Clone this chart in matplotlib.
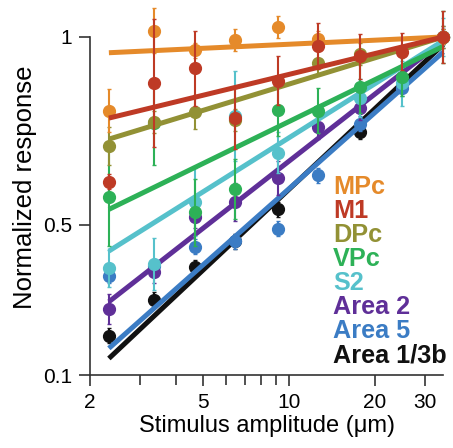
import numpy as np
import matplotlib.pyplot as plt
from matplotlib.ticker import FixedLocator, NullFormatter

plt.rcParams['font.family'] = ['Liberation Sans', 'DejaVu Sans']

nan = np.nan

# stimulus amplitudes (um)
amp = [2.33, 3.36, 4.68, 6.46, 9.14, 12.6, 17.8, 24.9, 34.8]

areas = ['MPc', 'M1', 'DPc', 'VPc', 'S2', 'Area 2', 'Area 5', 'Area 1/3b']
colors = ['#E58A2A', '#BE3A25', '#929135', '#2DB157',
          '#56C1CB', '#5F2F98', '#3B7CC4', '#111111']

# mean normalized response per area, nan = no point shown
resp_mpc = [0.804, 1.016, 0.965, 0.992, 1.027, 0.995, nan, nan, 1.0]
resp_m1 = [0.614, 0.878, 0.917, 0.783, 0.883, 0.976, 0.949, 0.961, 1.0]
resp_dpc = [0.710, 0.774, 0.801, 0.779, nan, 0.932, 0.955, nan, 1.0]
resp_vpc = [0.573, 0.770, 0.533, 0.595, 0.806, 0.803, 0.868, 0.894, 1.0]
resp_s2 = [0.384, 0.396, 0.561, 0.790, 0.692, nan, 0.837, 0.877, 1.0]
resp_a2 = [0.275, 0.375, 0.521, 0.561, 0.624, 0.759, 0.810, nan, 1.0]
resp_a5 = [0.364, 0.390, 0.442, 0.456, 0.489, 0.632, 0.769, 0.863, 1.0]
resp_a13b = [0.204, 0.300, 0.387, 0.456, 0.541, nan, 0.748, nan, 1.0]

# standard errors
err_mpc = [0.057, 0.06, 0.02, 0.03, 0.03, 0.02, nan, nan, 0.02]
err_m1 = [0.02, 0.17, 0.10, 0.08, 0.065, 0.06, 0.06, 0.05, 0.07]
err_dpc = [0.05, 0.03, 0.045, 0.03, nan, 0.03, 0.03, nan, 0.03]
err_vpc = [0.13, 0.11, 0.09, 0.08, 0.07, 0.06, 0.07, 0.05, 0.07]
err_s2 = [0.05, 0.07, 0.09, 0.12, 0.055, nan, 0.05, 0.06, 0.05]
err_a2 = [0.04, 0.03, 0.03, 0.05, 0.045, 0.03, 0.03, nan, 0.03]
err_a5 = [0.02, 0.02, 0.02, 0.02, 0.02, 0.02, 0.02, 0.02, 0.02]
err_a13b = [0.02, 0.02, 0.02, 0.02, 0.02, nan, 0.02, nan, 0.02]

# fitted line values at the smallest and largest amplitude
fit_start = [0.958, 0.784, 0.728, 0.541, 0.430, 0.295, 0.171, 0.144]
fit_end = [1.0, 1.0, 1.0, 0.975, 0.99, 0.99, 0.96, 0.98]

resp = [resp_mpc, resp_m1, resp_dpc, resp_vpc, resp_s2, resp_a2, resp_a5, resp_a13b]
errs = [err_mpc, err_m1, err_dpc, err_vpc, err_s2, err_a2, err_a5, err_a13b]

# draw order (later = on top)
draw_order = [7, 6, 5, 4, 3, 2, 0, 1]

fig = plt.figure(figsize=(4.53, 4.48), dpi=100)
ax = fig.add_axes([90 / 453, 73 / 448, 354 / 453, 375.6 / 448])

for z, i in enumerate(draw_order):
    c = colors[i]
    ax.errorbar(amp, resp[i], yerr=errs[i], fmt='o', color=c, ms=8.5,
                elinewidth=1.5, capsize=1.5, capthick=1.0, zorder=3 + z)
    ax.plot([amp[0], amp[-1]], [fit_start[i], fit_end[i]], color=c, lw=3.6,
            solid_capstyle='butt', zorder=3 + z)

for art in ax.lines + ax.collections:
    art.set_clip_on(False)

ax.set_xscale('log')
ax.set_xlim(2, 35)
ax.set_ylim(0.1, 1.1)
ax.set_xticks([2, 5, 10, 20, 30])
ax.set_xticklabels(['2', '5', '10', '20', '30'])
ax.xaxis.set_minor_locator(FixedLocator([3, 4, 6, 7, 8, 9]))
ax.xaxis.set_minor_formatter(NullFormatter())
ax.set_yticks([0.1, 0.5, 1])
ax.set_yticklabels(['0.1', '0.5', '1'])

for s in ['top', 'right']:
    ax.spines[s].set_visible(False)
ax.spines['left'].set_bounds(0.1, 1)
ax.spines['bottom'].set_bounds(2, 34.8)
for s in ['left', 'bottom']:
    ax.spines[s].set_color('#333333')
    ax.spines[s].set_linewidth(1.2)

ax.tick_params(which='major', length=8, width=1.2, color='#333333',
               labelsize=15, pad=5)
ax.tick_params(which='minor', length=7, width=1.2, color='#333333')

ax.set_xlabel('Stimulus amplitude (μm)', fontsize=17, labelpad=2)
ax.set_ylabel('Normalized response', fontsize=18.5, labelpad=4)

for k, name in enumerate(areas):
    ax.text(0.687, 0.5 - 0.0639 * k, name, transform=ax.transAxes,
            color=colors[k], fontsize=18.2, fontweight='bold',
            ha='left', va='center')

fig.savefig('out.png', dpi=100)
